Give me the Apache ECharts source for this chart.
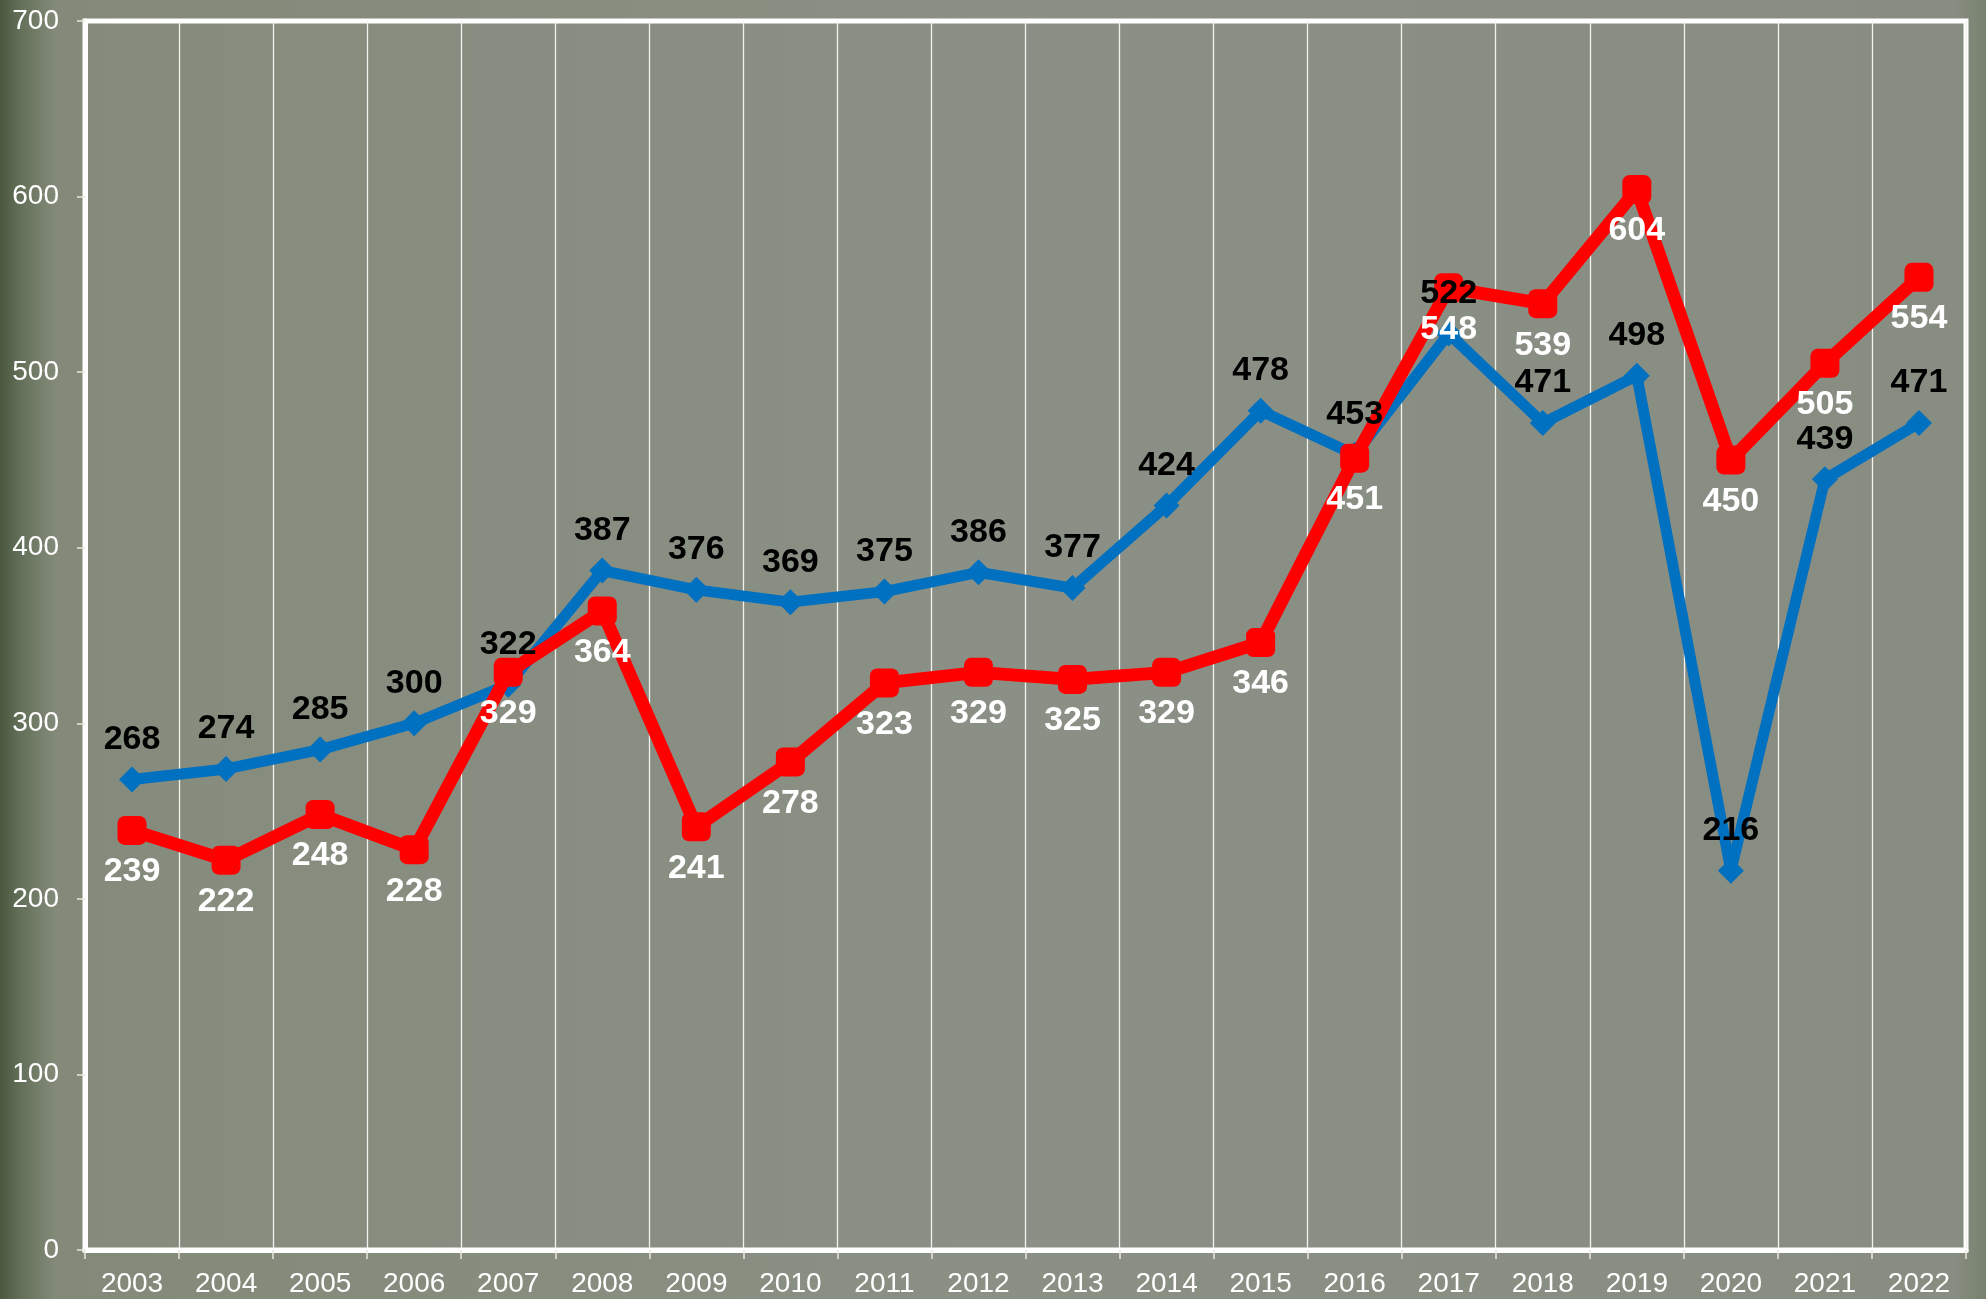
<!DOCTYPE html>
<html>
<head>
<meta charset="utf-8">
<style>
html,body{margin:0;padding:0;width:1986px;height:1299px;overflow:hidden;}
#chart{width:1986px;height:1299px;}
</style>
<script src="https://cdn.jsdelivr.net/npm/echarts@6/dist/echarts.min.js"></script>
</head>
<body>
<div id="chart"></div>
<script>
var years = ['2003','2004','2005','2006','2007','2008','2009','2010','2011','2012','2013','2014','2015','2016','2017','2018','2019','2020','2021','2022'];
var blueValues = [268,274,285,300,322,387,376,369,375,386,377,424,478,453,522,471,498,216,439,471];
var redValues = [239,222,248,228,329,364,241,278,323,329,325,329,346,451,548,539,604,450,505,554];
var yTicks = [0,100,200,300,400,500,600,700];

var chart = echarts.init(document.getElementById('chart'));
var font = 'Liberation Sans, Arial, sans-serif';
chart.setOption({
  backgroundColor: {
    type: 'linear', x: 0, y: 0, x2: 1, y2: 0,
    colorStops: [
      {offset: 0, color: '#4a5840'},
      {offset: 0.01, color: '#637059'},
      {offset: 0.028, color: '#838a79'},
      {offset: 0.5, color: '#8a9084'},
      {offset: 0.985, color: '#878d80'},
      {offset: 1, color: '#78816e'}
    ]
  },
  animation: false,
  grid: {
    left: 85, right: 20, top: 21, bottom: 49,
    show: true, borderColor: '#ffffff', borderWidth: 5,
    backgroundColor: 'rgba(150,152,145,0.12)'
  },
  xAxis: {
    type: 'category',
    data: years,
    boundaryGap: true,
    axisLine: {show: true, lineStyle: {color: '#ffffff', width: 5}},
    axisTick: {show: true, length: 9, lineStyle: {color: '#e8e8e0', width: 1.5}},
    axisLabel: {color: '#ffffff', fontSize: 28, fontFamily: font, margin: 20},
    splitLine: {show: true, lineStyle: {color: '#f2f2ee', width: 1.3}}
  },
  yAxis: {
    type: 'value',
    min: yTicks[0], max: yTicks[yTicks.length - 1], interval: 100,
    axisLine: {show: true, lineStyle: {color: '#ffffff', width: 5}},
    axisTick: {show: true, length: 8, lineStyle: {color: '#e8e8e0', width: 1.5}},
    axisLabel: {color: '#ffffff', fontSize: 28, fontFamily: font, margin: 26},
    splitLine: {show: false}
  },
  series: [
    {
      name: 'blue', type: 'line', data: blueValues,
      symbol: 'diamond', symbolSize: 26,
      lineStyle: {color: '#0070c0', width: 11},
      itemStyle: {color: '#0070c0'},
      label: {show: false},
      z: 2
    },
    {
      name: 'red', type: 'line', data: redValues,
      symbol: 'roundRect', symbolSize: 29,
      lineStyle: {color: '#ff0000', width: 13},
      itemStyle: {color: '#ff0000'},
      label: {show: true, position: 'bottom', distance: 10, color: '#ffffff', fontSize: 34, fontWeight: 'bold', fontFamily: font},
      z: 3
    },
    {
      name: 'blueLabels', type: 'line', data: blueValues,
      symbol: 'circle', symbolSize: 26,
      lineStyle: {width: 0, color: 'transparent'},
      itemStyle: {color: 'transparent'},
      label: {show: true, position: 'top', distance: 10, color: '#000000', fontSize: 34, fontWeight: 'bold', fontFamily: font},
      silent: true,
      z: 5
    }
  ]
});
</script>
</body>
</html>
